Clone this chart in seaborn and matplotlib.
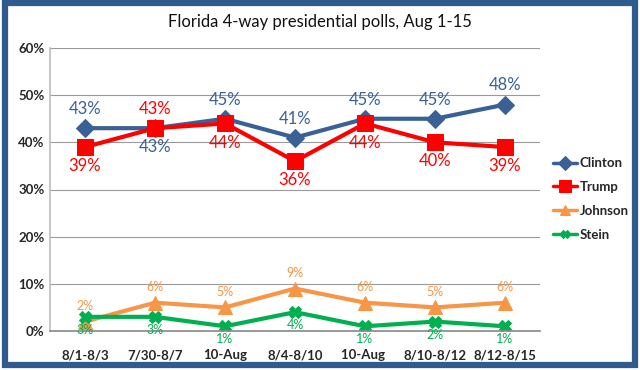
import matplotlib
matplotlib.use("Agg")
import matplotlib.pyplot as plt
import seaborn as sns
import pandas as pd
from matplotlib.patches import Rectangle
from matplotlib.ticker import PercentFormatter

categories = ["8/1-8/3", "7/30-8/7", "10-Aug", "8/4-8/10", "10-Aug ", "8/10-8/12", "8/12-8/15"]
clinton = [43, 43, 45, 41, 45, 45, 48]
trump = [39, 43, 44, 36, 44, 40, 39]
johnson = [2, 6, 5, 9, 6, 5, 6]
stein = [3, 3, 1, 4, 1, 2, 1]

series = {"Clinton": clinton, "Trump": trump, "Johnson": johnson, "Stein": stein}
colors = {"Clinton": "#3A6195", "Trump": "#FF0000", "Johnson": "#F79646", "Stein": "#00B050"}
markers = {"Clinton": "D", "Trump": "s", "Johnson": "^", "Stein": "X"}
msizes = {"Clinton": 9, "Trump": 11, "Johnson": 10, "Stein": 8}

rows = []
for name, vals in series.items():
    for i, (c, v) in enumerate(zip(categories, vals)):
        rows.append({"idx": i, "cat": c, "series": name, "value": v})
df = pd.DataFrame(rows)

sns.set_theme(style="white")
plt.rcParams['font.family'] = ['Lato', 'DejaVu Sans']

fig = plt.figure(figsize=(6.4, 3.7), dpi=100)
ax = fig.add_axes([50/640, 1-331/370, 490/640, (331-48)/370])

for name in series:
    sub = df[df.series == name]
    sns.lineplot(data=sub, x="idx", y="value", ax=ax, color=colors[name], lw=3,
                 marker=markers[name], markersize=msizes[name], markeredgecolor=colors[name],
                 label=name, legend=False)

# data labels
for name, vals in series.items():
    for i, v in enumerate(vals):
        if name == "Clinton":
            above = not (i == 1)
            off = 8 if above else -8
            ax.annotate(f"{v}%", (i, v), xytext=(0, off), textcoords="offset points",
                        ha="center", va="bottom" if above else "top", color=colors[name], fontsize=12)
        elif name == "Trump":
            above = (i == 1)
            off = 8 if above else -8
            ax.annotate(f"{v}%", (i, v), xytext=(0, off), textcoords="offset points",
                        ha="center", va="bottom" if above else "top", color=colors[name], fontsize=12)
        elif name == "Johnson":
            ax.annotate(f"{v}%", (i, v), xytext=(0, 7), textcoords="offset points",
                        ha="center", va="bottom", color=colors[name], fontsize=9)
        else:
            ax.annotate(f"{v}%", (i, v), xytext=(0, -5), textcoords="offset points",
                        ha="center", va="top", color=colors[name], fontsize=9)

ax.set_xlim(-0.5, len(categories) - 0.5)
ax.set_ylim(0, 60)
ax.set_yticks(range(0, 61, 10))
ax.yaxis.set_major_formatter(PercentFormatter(decimals=0))
ax.set_xticks(range(len(categories)))
ax.set_xticklabels(categories)
ax.grid(axis="y", color="#9A9A9A", lw=0.8)
ax.set_axisbelow(True)
for s in ["top", "right"]:
    ax.spines[s].set_visible(False)
ax.spines["left"].set_color("#BFBFBF")
ax.spines["bottom"].set_color("#8C8C8C")
ax.tick_params(axis="y", labelsize=9.5, length=0, pad=4)
ax.tick_params(axis="x", labelsize=9.5, length=0, pad=13)
for t in ax.get_xticklabels() + ax.get_yticklabels():
    t.set_fontweight("bold")
ax.set_xlabel("")
ax.set_ylabel("")

handles, labels = ax.get_legend_handles_labels()
leg = fig.legend(handles, labels, loc="center left", bbox_to_anchor=(548/640, 1-199/370),
                 frameon=False, fontsize=9.5, handlelength=1.8, labelspacing=0.9,
                 handletextpad=0.2, borderaxespad=0, markerscale=0.75)
for t in leg.get_texts():
    t.set_fontweight("bold")
for h in leg.legend_handles:
    h.set_linewidth(2.5)

fig.text(0.5, 1-22/370, "Florida 4-way presidential polls, Aug 1-15", ha="center", va="center",
         fontsize=12, color="#111111")

fig.patches.append(Rectangle((4.5/640, 5/370), 630/640, 362/370, transform=fig.transFigure,
                             fill=False, edgecolor="#2F5B8E", lw=4.5))

fig.savefig("out.png", dpi=100)
